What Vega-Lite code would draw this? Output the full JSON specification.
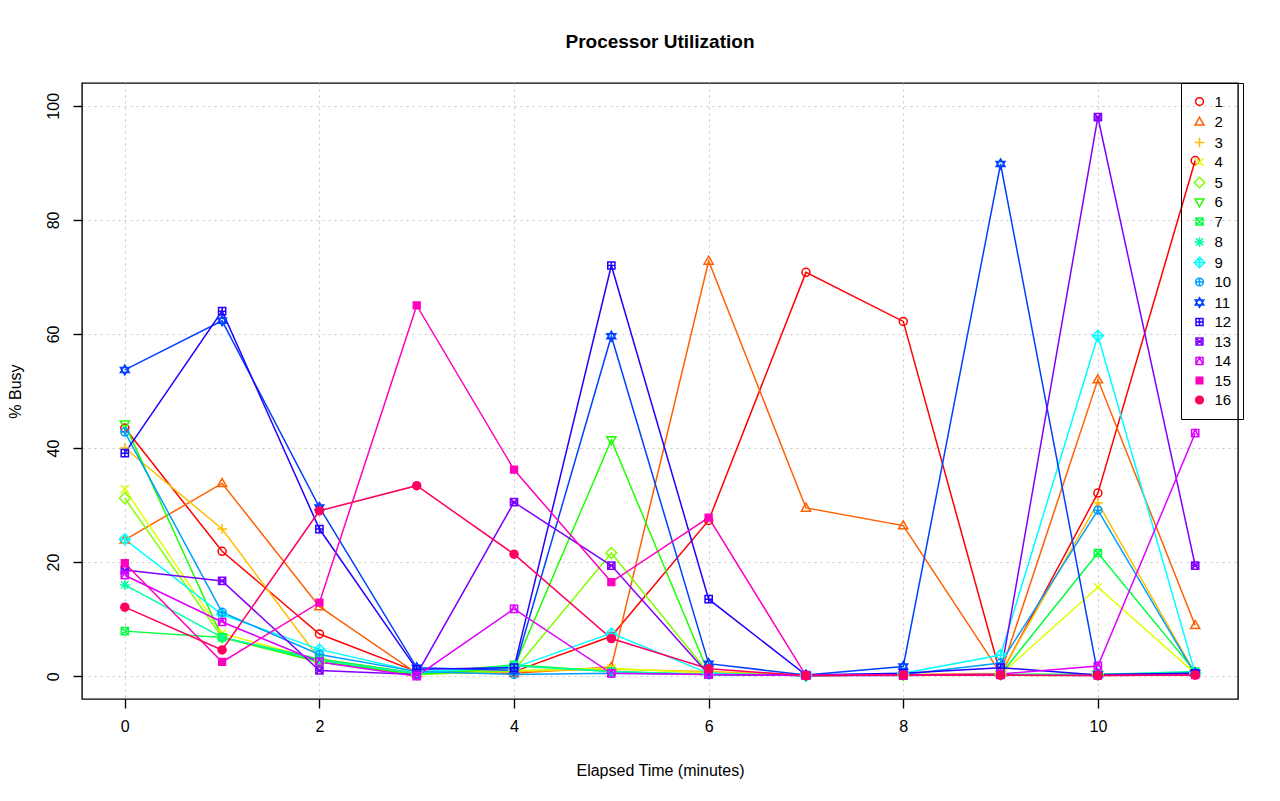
{
  "$schema": "https://vega.github.io/schema/vega-lite/v6.json",
  "autosize": {"type": "none"},
  "width": 1156,
  "height": 616,
  "padding": {"left": 82, "top": 83, "right": 42, "bottom": 102},
  "background": "white",
  "title": {"text": "Processor Utilization", "fontSize": 19, "fontWeight": "bold", "anchor": "middle", "frame": "group", "offset": 16, "baseline": "alphabetic", "color": "black"},
  "config": {
    "font": "Liberation Sans",
    "view": {"stroke": "black", "strokeWidth": 1.4},
    "legend": {"orient": "none", "legendX": 1099, "legendY": 0, "padding": 11, "rowPadding": 3.5, "strokeColor": "black", "symbolSize": 60, "symbolStrokeWidth": 1.5, "labelFontSize": 15, "labelColor": "black", "labelOffset": 7.5}
  },
  "data": {"values": [
    {"s":1,"x":0,"y":43.5},{"s":1,"x":1,"y":21.9},{"s":1,"x":2,"y":7.4},{"s":1,"x":3,"y":0.8},{"s":1,"x":4,"y":0.8},{"s":1,"x":5,"y":7.0},{"s":1,"x":6,"y":27.3},{"s":1,"x":7,"y":70.8},{"s":1,"x":8,"y":62.2},{"s":1,"x":9,"y":0.3},{"s":1,"x":10,"y":32.1},{"s":1,"x":11,"y":90.4},
    {"s":2,"x":0,"y":23.9},{"s":2,"x":1,"y":33.8},{"s":2,"x":2,"y":12.2},{"s":2,"x":3,"y":0.5},{"s":2,"x":4,"y":0.5},{"s":2,"x":5,"y":1.6},{"s":2,"x":6,"y":72.8},{"s":2,"x":7,"y":29.5},{"s":2,"x":8,"y":26.4},{"s":2,"x":9,"y":0.5},{"s":2,"x":10,"y":52.0},{"s":2,"x":11,"y":8.9},
    {"s":3,"x":0,"y":40.0},{"s":3,"x":1,"y":25.8},{"s":3,"x":2,"y":3.0},{"s":3,"x":3,"y":0.5},{"s":3,"x":4,"y":0.8},{"s":3,"x":5,"y":1.2},{"s":3,"x":6,"y":0.8},{"s":3,"x":7,"y":0.2},{"s":3,"x":8,"y":0.3},{"s":3,"x":9,"y":0.5},{"s":3,"x":10,"y":30.4},{"s":3,"x":11,"y":0.5},
    {"s":4,"x":0,"y":32.8},{"s":4,"x":1,"y":7.5},{"s":4,"x":2,"y":2.8},{"s":4,"x":3,"y":0.3},{"s":4,"x":4,"y":1.0},{"s":4,"x":5,"y":1.4},{"s":4,"x":6,"y":0.5},{"s":4,"x":7,"y":0.1},{"s":4,"x":8,"y":0.2},{"s":4,"x":9,"y":0.3},{"s":4,"x":10,"y":15.6},{"s":4,"x":11,"y":0.5},
    {"s":5,"x":0,"y":31.2},{"s":5,"x":1,"y":6.8},{"s":5,"x":2,"y":2.5},{"s":5,"x":3,"y":0.3},{"s":5,"x":4,"y":1.0},{"s":5,"x":5,"y":21.6},{"s":5,"x":6,"y":0.5},{"s":5,"x":7,"y":0.1},{"s":5,"x":8,"y":0.2},{"s":5,"x":9,"y":0.3},{"s":5,"x":10,"y":0.3},{"s":5,"x":11,"y":0.5},
    {"s":6,"x":0,"y":44.2},{"s":6,"x":1,"y":6.8},{"s":6,"x":2,"y":2.5},{"s":6,"x":3,"y":0.3},{"s":6,"x":4,"y":1.5},{"s":6,"x":5,"y":41.4},{"s":6,"x":6,"y":0.5},{"s":6,"x":7,"y":0.1},{"s":6,"x":8,"y":0.2},{"s":6,"x":9,"y":0.3},{"s":6,"x":10,"y":0.3},{"s":6,"x":11,"y":0.5},
    {"s":7,"x":0,"y":7.9},{"s":7,"x":1,"y":6.8},{"s":7,"x":2,"y":3.0},{"s":7,"x":3,"y":0.5},{"s":7,"x":4,"y":2.0},{"s":7,"x":5,"y":0.8},{"s":7,"x":6,"y":0.3},{"s":7,"x":7,"y":0.1},{"s":7,"x":8,"y":0.2},{"s":7,"x":9,"y":0.3},{"s":7,"x":10,"y":21.6},{"s":7,"x":11,"y":0.8},
    {"s":8,"x":0,"y":16.0},{"s":8,"x":1,"y":6.8},{"s":8,"x":2,"y":2.8},{"s":8,"x":3,"y":0.5},{"s":8,"x":4,"y":1.8},{"s":8,"x":5,"y":0.8},{"s":8,"x":6,"y":0.3},{"s":8,"x":7,"y":0.1},{"s":8,"x":8,"y":0.2},{"s":8,"x":9,"y":0.3},{"s":8,"x":10,"y":0.3},{"s":8,"x":11,"y":0.8},
    {"s":9,"x":0,"y":24.0},{"s":9,"x":1,"y":10.8},{"s":9,"x":2,"y":4.7},{"s":9,"x":3,"y":0.8},{"s":9,"x":4,"y":1.5},{"s":9,"x":5,"y":7.5},{"s":9,"x":6,"y":0.5},{"s":9,"x":7,"y":0.1},{"s":9,"x":8,"y":0.5},{"s":9,"x":9,"y":3.7},{"s":9,"x":10,"y":59.7},{"s":9,"x":11,"y":0.5},
    {"s":10,"x":0,"y":42.8},{"s":10,"x":1,"y":11.2},{"s":10,"x":2,"y":3.8},{"s":10,"x":3,"y":0.8},{"s":10,"x":4,"y":0.3},{"s":10,"x":5,"y":0.5},{"s":10,"x":6,"y":0.3},{"s":10,"x":7,"y":0.1},{"s":10,"x":8,"y":0.3},{"s":10,"x":9,"y":2.3},{"s":10,"x":10,"y":29.1},{"s":10,"x":11,"y":0.3},
    {"s":11,"x":0,"y":53.7},{"s":11,"x":1,"y":62.3},{"s":11,"x":2,"y":29.6},{"s":11,"x":3,"y":1.5},{"s":11,"x":4,"y":1.0},{"s":11,"x":5,"y":59.6},{"s":11,"x":6,"y":2.2},{"s":11,"x":7,"y":0.2},{"s":11,"x":8,"y":1.7},{"s":11,"x":9,"y":89.8},{"s":11,"x":10,"y":0.3},{"s":11,"x":11,"y":0.5},
    {"s":12,"x":0,"y":39.1},{"s":12,"x":1,"y":64.0},{"s":12,"x":2,"y":25.8},{"s":12,"x":3,"y":1.2},{"s":12,"x":4,"y":1.5},{"s":12,"x":5,"y":72.0},{"s":12,"x":6,"y":13.5},{"s":12,"x":7,"y":0.2},{"s":12,"x":8,"y":0.5},{"s":12,"x":9,"y":1.5},{"s":12,"x":10,"y":0.2},{"s":12,"x":11,"y":0.5},
    {"s":13,"x":0,"y":18.6},{"s":13,"x":1,"y":16.7},{"s":13,"x":2,"y":1.0},{"s":13,"x":3,"y":0.3},{"s":13,"x":4,"y":30.5},{"s":13,"x":5,"y":19.4},{"s":13,"x":6,"y":0.3},{"s":13,"x":7,"y":0.1},{"s":13,"x":8,"y":0.1},{"s":13,"x":9,"y":0.3},{"s":13,"x":10,"y":98.0},{"s":13,"x":11,"y":19.4},
    {"s":14,"x":0,"y":17.7},{"s":14,"x":1,"y":9.5},{"s":14,"x":2,"y":2.5},{"s":14,"x":3,"y":0.0},{"s":14,"x":4,"y":11.8},{"s":14,"x":5,"y":0.5},{"s":14,"x":6,"y":0.3},{"s":14,"x":7,"y":0.1},{"s":14,"x":8,"y":0.2},{"s":14,"x":9,"y":0.4},{"s":14,"x":10,"y":1.8},{"s":14,"x":11,"y":42.6},
    {"s":15,"x":0,"y":19.8},{"s":15,"x":1,"y":2.5},{"s":15,"x":2,"y":12.9},{"s":15,"x":3,"y":65.0},{"s":15,"x":4,"y":36.2},{"s":15,"x":5,"y":16.5},{"s":15,"x":6,"y":27.8},{"s":15,"x":7,"y":0.1},{"s":15,"x":8,"y":0.2},{"s":15,"x":9,"y":0.2},{"s":15,"x":10,"y":0.1},{"s":15,"x":11,"y":0.2},
    {"s":16,"x":0,"y":12.1},{"s":16,"x":1,"y":4.6},{"s":16,"x":2,"y":29.0},{"s":16,"x":3,"y":33.4},{"s":16,"x":4,"y":21.4},{"s":16,"x":5,"y":6.6},{"s":16,"x":6,"y":1.3},{"s":16,"x":7,"y":0.1},{"s":16,"x":8,"y":0.2},{"s":16,"x":9,"y":0.2},{"s":16,"x":10,"y":0.1},{"s":16,"x":11,"y":0.2}
  ]},
  "encoding": {
    "x": {"field": "x", "type": "quantitative",
      "scale": {"domain": [-0.44, 11.44], "nice": false, "zero": false},
      "axis": {"values": [0, 2, 4, 6, 8, 10], "grid": true, "gridDash": [2, 4], "gridColor": "#C8C8C8", "gridWidth": 1.2, "domain": false, "tickColor": "black", "tickWidth": 1.4, "tickSize": 9, "labelFontSize": 16, "labelColor": "black", "labelPadding": 10, "title": "Elapsed Time (minutes)", "titleFontSize": 16, "titleFontWeight": "normal", "titleColor": "black", "titleX": 578, "titleY": 71, "titleAlign": "center", "titleBaseline": "middle"}},
    "y": {"field": "y", "type": "quantitative",
      "scale": {"domain": [-4, 104], "nice": false, "zero": false},
      "axis": {"values": [0, 20, 40, 60, 80, 100], "grid": true, "gridDash": [2, 4], "gridColor": "#C8C8C8", "gridWidth": 1.2, "domain": false, "tickColor": "black", "tickWidth": 1.4, "tickSize": 9, "labelFontSize": 16, "labelColor": "black", "labelAngle": 270, "labelAlign": "center", "labelBaseline": "alphabetic", "labelPadding": 15, "title": "% Busy", "titleFontSize": 16, "titleFontWeight": "normal", "titleColor": "black", "titleAngle": 270, "titleX": -67, "titleY": 308, "titleAlign": "center", "titleBaseline": "middle"}}
  },
  "layer": [
    {
      "mark": {"type": "line", "strokeWidth": 1.5},
      "encoding": {
        "stroke": {"field": "s", "type": "nominal", "legend": {"title": null},
          "scale": {"domain": [1,2,3,4,5,6,7,8,9,10,11,12,13,14,15,16], "range": ["#FF0000","#FF6000","#FFBF00","#DFFF00","#80FF00","#20FF00","#00FF40","#00FF9F","#00FFFF","#009FFF","#0040FF","#2000FF","#8000FF","#DF00FF","#FF00BF","#FF0060"]}}
      }
    },
    {
      "mark": {"type": "point", "size": 64, "strokeWidth": 1.5, "opacity": 1},
      "encoding": {
        "stroke": {"field": "s", "type": "nominal", "legend": {"title": null}},
        "fill": {"field": "s", "type": "nominal", "legend": {"title": null},
          "scale": {"domain": [1,2,3,4,5,6,7,8,9,10,11,12,13,14,15,16], "range": ["transparent","transparent","transparent","transparent","transparent","transparent","transparent","transparent","transparent","transparent","transparent","transparent","transparent","transparent","#FF00BF","#FF0060"]}},
        "shape": {"field": "s", "type": "nominal", "legend": {"title": null},
          "scale": {"domain": [1,2,3,4,5,6,7,8,9,10,11,12,13,14,15,16], "range": [
            "circle",
            "M0,-1.2L1.15,0.8L-1.15,0.8Z",
            "M-1.25,0L1.25,0M0,-1.25L0,1.25",
            "M-1,-1L1,1M-1,1L1,-1",
            "M0,-1.35L1.35,0L0,1.35L-1.35,0Z",
            "M0,1.2L1.15,-0.8L-1.15,-0.8Z",
            "M-0.9,-0.9L0.9,-0.9L0.9,0.9L-0.9,0.9ZM-0.9,-0.9L0.9,0.9M-0.9,0.9L0.9,-0.9",
            "M-1.25,0L1.25,0M0,-1.25L0,1.25M-0.9,-0.9L0.9,0.9M-0.9,0.9L0.9,-0.9",
            "M0,-1.35L1.35,0L0,1.35L-1.35,0ZM-1.35,0L1.35,0M0,-1.35L0,1.35",
            "M-1,0A1,1,0,1,1,1,0A1,1,0,1,1,-1,0ZM-1,0L1,0M0,-1L0,1",
            "M0,-1.25L1.1,0.62L-1.1,0.62ZM0,1.25L1.1,-0.62L-1.1,-0.62Z",
            "M-0.9,-0.9L0.9,-0.9L0.9,0.9L-0.9,0.9ZM-0.9,0L0.9,0M0,-0.9L0,0.9",
            "M-0.9,-0.9L0.9,-0.9L0.9,0.9L-0.9,0.9ZM-0.9,-0.9L0.9,0.9M-0.9,0.9L0.9,-0.9M-0.9,0L0.9,0",
            "M-0.9,-0.9L0.9,-0.9L0.9,0.9L-0.9,0.9ZM-0.9,0.9L0,-0.9L0.9,0.9",
            "M-0.85,-0.85L0.85,-0.85L0.85,0.85L-0.85,0.85Z",
            "circle"
          ]}}
      }
    }
  ]
}
